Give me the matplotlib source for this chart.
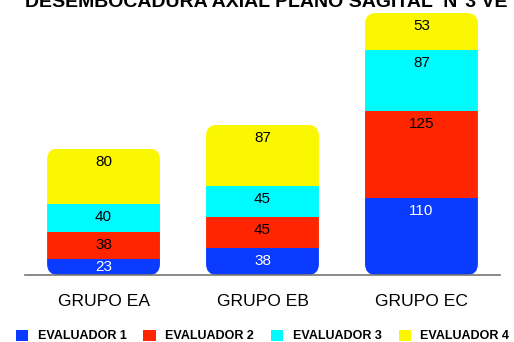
import matplotlib
matplotlib.use("Agg")
import matplotlib.pyplot as plt
from matplotlib.patches import FancyBboxPatch, Patch

plt.rcParams['font.family'] = ['Liberation Sans', 'DejaVu Sans']

title = "DESEMBOCADURA AXIAL PLANO SAGITAL  N°3 VE"
groups = ["GRUPO EA", "GRUPO EB", "GRUPO EC"]
series_names = ["EVALUADOR 1", "EVALUADOR 2", "EVALUADOR 3", "EVALUADOR 4"]
evaluador1 = [23, 38, 110]
evaluador2 = [38, 45, 125]
evaluador3 = [40, 45, 87]
evaluador4 = [80, 87, 53]

series = [evaluador1, evaluador2, evaluador3, evaluador4]
colors = ['#0b3bff', '#ff2500', '#00fbff', '#fbf700']
text_colors = ['white', 'black', 'black', 'black']

W, H = 514, 342
fig = plt.figure(figsize=(W / 100, H / 100), dpi=100)
ax = fig.add_axes([25 / W, 67 / H, 475 / W, 275 / H])
ax.set_xlim(-0.494, 2.494)
ax.set_ylim(0, 393.6)
for s in ax.spines.values():
    s.set_visible(False)
ax.set_xticks([])
ax.set_yticks([])
ax.axhline(0, color='#777777', lw=1.2, clip_on=False)

width = 0.71
x = range(len(groups))

# px per data unit, for rounded corners and label offsets
px_x = ax.bbox.width / (ax.get_xlim()[1] - ax.get_xlim()[0])
px_y = ax.bbox.height / (ax.get_ylim()[1] - ax.get_ylim()[0])
radius_px = 11

totals = [sum(v) for v in zip(*series)]
for i in x:
    # rounded outline used to clip the stacked segments
    clip = FancyBboxPatch((i - width / 2, 0), width, totals[i],
                          boxstyle=f"round,pad=0,rounding_size={radius_px / px_x}",
                          mutation_aspect=px_x / px_y,
                          transform=ax.transData, facecolor='none', edgecolor='none')
    ax.add_patch(clip)
    bottom = 0
    for k, vals in enumerate(series):
        v = vals[i]
        bars = ax.bar(i, v, width, bottom=bottom, color=colors[k], linewidth=0)
        bars[0].set_clip_path(clip)
        seg_px = v * px_y
        offset = min(13, seg_px / 2)
        ax.annotate(str(v), (i, bottom + v), xytext=(0, -offset * 72 / 100),
                    textcoords='offset points', ha='center', va='center',
                    fontsize=11, color=text_colors[k])
        bottom += v

for i, g in enumerate(groups):
    ax.annotate(g, (i, 0), xytext=(0, -27 * 72 / 100), textcoords='offset points',
                ha='center', va='center', fontsize=12.6, annotation_clip=False)

fig.text(0.518, 1 - 7 / H, title, ha='center', va='baseline',
         fontsize=14, fontweight='bold')

handles = [Patch(facecolor=c, edgecolor='none') for c in colors]
fig.legend(handles, series_names, loc='center', bbox_to_anchor=(0.511, 1 - 336 / H),
           ncol=4, frameon=False, prop={'weight': 'bold', 'size': 9},
           handlelength=1.0, handleheight=1.0, handletextpad=0.75, columnspacing=1.35)

fig.savefig("out.png", dpi=100)
